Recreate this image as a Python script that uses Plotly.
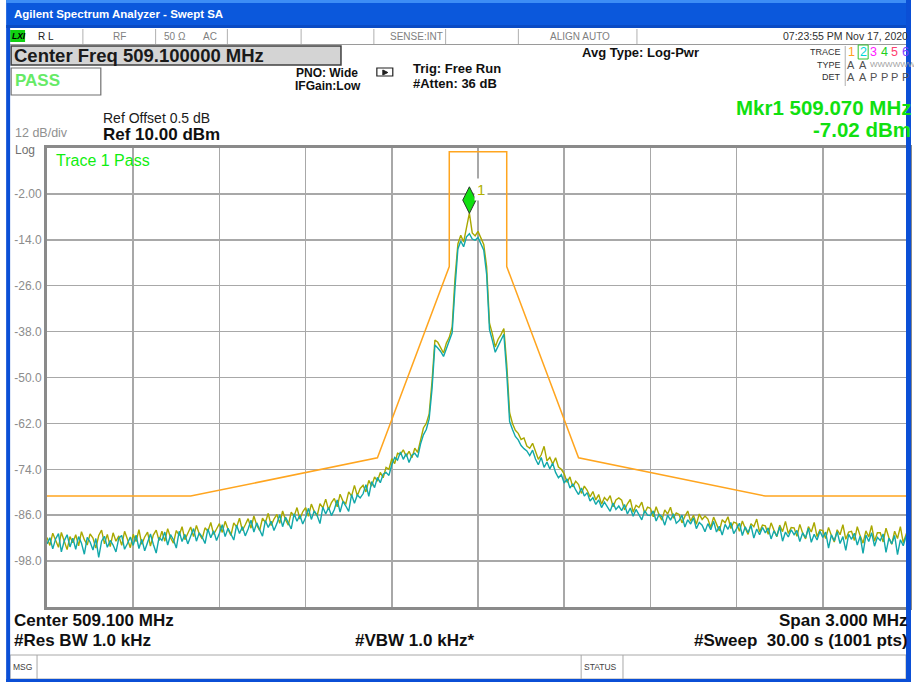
import numpy as np
import plotly.graph_objects as go

# ---------------- data ----------------
start_mhz, stop_mhz = 507.6, 510.6
n_pts = 301
freqs = np.round(np.linspace(start_mhz, stop_mhz, n_pts), 3)

trace1_db = [
    -91.8, -93.9, -90.7, -92.6, -94.4, -90.5, -92.9, -95.0, -91.6, -93.2,
    -91.1, -94.0, -90.3, -92.4, -93.8, -90.9, -92.0, -94.6, -91.3, -89.9,
    -93.5, -91.0, -94.2, -90.6, -92.8, -91.4, -93.9, -90.2, -92.3, -94.5,
    -91.0, -92.9, -89.8, -93.6, -91.7, -90.4, -94.1, -91.2, -89.9, -92.6,
    -90.2, -92.8, -89.5, -91.9, -93.3, -90.0, -91.3, -89.0, -92.4, -90.7,
    -89.1, -91.6, -88.7, -90.9, -92.2, -89.3, -90.2, -87.9, -91.0, -89.6,
    -88.2, -90.5, -87.6, -89.7, -91.3, -88.0, -89.1, -86.8, -90.0, -88.5,
    -86.9, -89.4, -86.2, -88.6, -90.0, -86.8, -87.9, -85.5, -88.7, -87.0,
    -85.8, -88.1, -84.9, -87.2, -88.6, -85.2, -86.3, -84.0, -87.0, -85.1,
    -84.0, -86.3, -83.1, -85.0, -86.2, -83.0, -84.1, -81.8, -84.6, -82.7,
    -81.6, -83.8, -80.5, -82.3, -83.0, -79.9, -81.0, -78.2, -80.9, -79.0,
    -78.2, -79.9, -76.9, -78.4, -76.0, -77.1, -74.8, -76.2, -73.5, -74.0,
    -71.2, -72.5, -69.8, -70.1, -68.9, -70.6, -69.3, -71.0, -68.5, -69.6,
    -66.0, -63.2, -62.0, -59.5, -51.0, -40.2, -40.8, -42.1, -43.6, -41.0,
    -39.5, -36.8, -24.0, -15.1, -12.8, -14.6, -11.0, -7.0, -12.2, -13.0,
    -11.8, -13.6, -15.2, -21.0, -35.8, -38.6, -42.0, -40.0, -38.8, -37.2,
    -46.5, -59.2, -62.0, -63.8, -64.6, -66.2, -65.8, -67.9, -68.5, -67.2,
    -69.6, -71.4, -70.2, -68.0, -71.8, -70.9, -72.6, -71.0, -73.4, -74.0,
    -75.2, -77.4, -76.0, -78.6, -77.1, -78.0, -80.3, -78.4, -79.5, -81.2,
    -79.8, -82.0, -80.6, -83.1, -81.4, -82.2, -80.9, -83.8, -82.0, -81.5,
    -82.1, -84.6, -83.0, -81.9, -85.2, -83.4, -84.0, -82.6, -85.5, -83.9,
    -84.2, -86.4, -83.8, -85.9, -87.3, -84.6, -85.7, -83.9, -86.8, -85.4,
    -85.8, -88.0, -86.3, -84.9, -87.6, -86.0, -88.4, -85.7, -87.1, -86.2,
    -87.0, -89.2, -86.5, -88.3, -90.1, -87.2, -88.0, -86.4, -89.5, -87.8,
    -88.1, -90.2, -87.5, -89.4, -91.0, -88.2, -89.0, -87.0, -90.4, -88.6,
    -88.8, -91.0, -88.0, -89.9, -91.6, -88.6, -90.3, -87.6, -90.8, -89.2,
    -89.3, -91.5, -88.4, -90.7, -92.2, -89.0, -90.4, -87.9, -91.6, -89.8,
    -90.0, -92.1, -89.2, -91.3, -93.0, -89.8, -91.1, -88.5, -92.3, -90.4,
    -90.2, -92.6, -89.0, -91.4, -93.3, -90.1, -91.7, -88.7, -92.8, -90.6,
    -90.6, -93.0, -89.4, -91.9, -93.6, -90.2, -92.1, -89.0, -93.2, -91.0,
    -91.8,
]

trace2_db = [
    -93.5, -91.9, -94.8, -92.2, -90.8, -95.6, -92.7, -91.1, -94.3, -92.0,
    -94.9, -91.6, -93.3, -96.2, -91.8, -93.0, -95.1, -92.1, -97.0, -92.8,
    -91.5, -94.4, -92.6, -93.8, -95.6, -92.0, -91.3, -94.9, -93.4, -91.7,
    -93.9, -91.2, -94.7, -92.3, -95.3, -92.8, -90.9, -93.6, -95.9, -91.8,
    -92.6, -90.4, -93.8, -91.1, -92.4, -94.6, -90.2, -92.9, -91.0, -93.5,
    -91.3, -89.5, -92.8, -90.6, -91.7, -93.4, -89.6, -91.9, -90.1, -92.6,
    -90.7, -88.5, -91.6, -89.4, -90.9, -92.5, -88.6, -90.8, -89.0, -91.4,
    -89.6, -87.3, -90.4, -88.0, -89.8, -91.5, -87.4, -89.2, -87.6, -90.0,
    -88.2, -85.9, -89.0, -86.5, -88.0, -89.6, -85.6, -87.6, -86.0, -88.3,
    -86.6, -84.2, -87.1, -84.9, -86.0, -88.2, -83.9, -85.7, -84.0, -86.1,
    -84.5, -82.0, -85.2, -82.4, -83.6, -85.0, -80.6, -82.9, -80.7, -81.5,
    -80.4, -78.0, -81.1, -77.2, -78.8, -76.1, -77.5, -75.3, -74.8, -75.6,
    -72.8, -70.9, -71.6, -69.5, -71.4, -69.9, -72.2, -70.3, -69.8, -70.9,
    -67.4, -65.0, -63.6, -60.8, -53.0, -41.5, -42.3, -43.2, -44.5, -42.4,
    -40.6, -38.3, -26.5, -16.4, -14.3, -15.8, -13.2, -12.4, -13.8, -14.1,
    -13.4, -14.9, -16.7, -23.0, -37.5, -40.3, -43.4, -41.8, -40.0, -38.7,
    -48.8, -61.5, -63.6, -65.4, -66.3, -67.8, -68.6, -69.2, -70.4, -69.0,
    -71.3, -72.8, -70.9, -73.5, -72.1, -73.9, -72.4, -74.8, -76.2, -75.4,
    -77.6, -76.5, -78.9, -77.8, -79.4, -80.6, -78.9, -81.0, -80.1, -82.3,
    -81.4, -83.2, -82.0, -84.0, -82.6, -83.9, -85.0, -82.8, -84.5, -83.6,
    -84.8, -83.2, -85.7, -84.1, -86.3, -84.5, -85.9, -87.2, -84.8, -86.0,
    -86.1, -84.9, -87.5, -85.8, -86.4, -88.6, -86.0, -87.3, -85.6, -88.1,
    -87.4, -86.0, -89.1, -87.2, -88.3, -86.7, -89.5, -87.9, -88.6, -90.3,
    -88.2, -89.8, -87.6, -90.4, -88.9, -91.2, -88.4, -89.7, -87.9, -90.8,
    -89.5, -88.1, -91.3, -89.0, -90.6, -88.7, -92.0, -89.6, -91.1, -89.2,
    -90.6, -89.3, -92.2, -90.1, -91.5, -89.0, -92.8, -90.4, -91.7, -89.8,
    -91.1, -90.0, -92.9, -90.6, -91.9, -89.4, -93.1, -91.0, -92.5, -90.2,
    -91.8, -90.4, -94.6, -91.1, -92.7, -90.3, -93.4, -91.6, -95.2, -91.0,
    -92.3, -90.7, -93.8, -91.5, -96.0, -91.2, -92.9, -90.6, -94.1, -91.8,
    -92.6, -90.9, -95.7, -92.0, -93.5, -91.3, -96.3, -92.4, -94.0, -91.5,
    -93.2,
]

limit_freq = [507.6, 508.1, 508.75, 509.0, 509.0, 509.2, 509.2, 509.45, 510.1, 510.6]
limit_db = [-81, -81, -71, -21, 9, 9, -21, -71, -81, -81]

mkr_freq = 509.070
mkr_db = -7.02

ref_level = 10.0
db_per_div = 12.0
n_div = 10
y_tick_vals = [-2, -14, -26, -38, -50, -62, -74, -86, -98]
y_tick_text = ["-2.00", "-14.0", "-26.0", "-38.0", "-50.0", "-62.0", "-74.0", "-86.0", "-98.0"]

# ---------------- geometry helpers ----------------
W, H = 914, 682
L, R, T, B = 47, 912, 148, 607
FONT = "Liberation Sans, Arial, sans-serif"


def px(x):
    return (x - L) / (R - L)


def py(y):
    return (B - y) / (B - T)


shapes = []
annotations = []


def rect(x0, y0, x1, y1, fill=None, line=None, lw=1):
    shapes.append(dict(type="rect", xref="paper", yref="paper",
                       x0=px(x0), x1=px(x1), y0=py(y1), y1=py(y0),
                       fillcolor=fill if fill else "rgba(0,0,0,0)",
                       line=dict(color=line if line else "rgba(0,0,0,0)", width=lw if line else 0),
                       layer="above"))


def vline(x, y0, y1, color="#a0a0a0", lw=1):
    shapes.append(dict(type="line", xref="paper", yref="paper",
                       x0=px(x), x1=px(x), y0=py(y0), y1=py(y1),
                       line=dict(color=color, width=lw), layer="above"))


def hline(x0, x1, y, color="#a0a0a0", lw=1):
    shapes.append(dict(type="line", xref="paper", yref="paper",
                       x0=px(x0), x1=px(x1), y0=py(y), y1=py(y),
                       line=dict(color=color, width=lw), layer="above"))


def text(x, y, s, size=12, color="#000000", anchor="left", bold=False, bg=None):
    annotations.append(dict(xref="paper", yref="paper", x=px(x), y=py(y),
                            text=("<b>%s</b>" % s) if bold else s,
                            showarrow=False, xanchor=anchor, yanchor="middle",
                            font=dict(family=FONT, size=size, color=color),
                            bgcolor=bg if bg else "rgba(0,0,0,0)", borderpad=0))


# ---------------- figure ----------------
fig = go.Figure()

fig.add_trace(go.Scatter(x=limit_freq, y=limit_db, mode="lines",
                         line=dict(color="#ffa51f", width=1.5), hoverinfo="skip"))
fig.add_trace(go.Scatter(x=freqs, y=trace1_db, mode="lines",
                         line=dict(color="#a9a800", width=1.4), hoverinfo="skip"))
fig.add_trace(go.Scatter(x=freqs, y=trace2_db, mode="lines",
                         line=dict(color="#12a8aa", width=1.4), hoverinfo="skip"))

# marker diamond (drawn just above the marked point)
fig.add_trace(go.Scatter(x=[mkr_freq], y=[mkr_db + 13 * (db_per_div * n_div) / (B - T)],
                         mode="markers",
                         marker=dict(symbol="diamond-tall", size=19, color="#10e010",
                                     line=dict(color="#2a3a2a", width=1)),
                         hoverinfo="skip"))
annotations.append(dict(x=mkr_freq, y=mkr_db, xref="x", yref="y", text="1",
                        showarrow=False, xshift=12, yshift=24,
                        font=dict(family=FONT, size=15, color="#b0b000"),
                        bgcolor="#ffffff", borderpad=2))

# ---------------- window chrome ----------------
# title bar
rect(6, 0, 914, 28, fill="#0b58dc")
rect(6, 0, 914, 3, fill="#3d8df5")
rect(6, 25, 914, 28, fill="#0a4bc4")
text(13, 14, "Agilent Spectrum Analyzer - Swept SA", 11.5, "#ffffff", bold=True)

# status row
rect(10, 29, 909, 44, fill="#ffffff")
hline(10, 909, 44.5, "#9a9a9a", 1)
for xd in [83, 156, 228, 302, 375, 447, 520, 639]:
    vline(xd, 29, 44, "#b0b0b0", 1)
rect(10, 30, 25, 42, fill="#10d010")
text(11, 36.5, "<i><b>LXI</b></i>", 8.5, "#000000")
text(37, 36.5, "R L", 10, "#202020")
text(112, 36.5, "RF", 10, "#808080")
text(163, 36.5, "50 Ω", 10, "#808080")
text(203, 36.5, "AC", 10, "#808080")
text(445, 36.5, "SENSE:INT", 10, "#808080", anchor="right")
text(582, 36.5, "ALIGN AUTO", 10, "#808080", anchor="center")
text(912, 36.5, "07:23:55 PM Nov 17, 2020", 10.5, "#303030", anchor="right")

# center freq / pass boxes
rect(11, 46, 342, 65, fill="#d4d4d4", line="#404040", lw=1.5)
text(13, 56, "Center Freq 509.100000 MHz", 18.5, "#1a1a1a", bold=True)
rect(11, 68, 101, 95, fill="#ffffff", line="#707070", lw=1.2)
text(14, 81, "PASS", 17, "#66ea66", bold=True)

text(328, 73, "PNO: Wide", 12, "#101010", anchor="center", bold=True)
text(329, 86, "IFGain:Low", 12, "#101010", anchor="center", bold=True)
shapes.append(dict(type="path", xref="paper", yref="paper",
                   path="M %f %f L %f %f L %f %f L %f %f Z" % (
                       px(378), py(68), px(394), py(68), px(394), py(76), px(378), py(76)),
                   line=dict(color="#202020", width=1.2), layer="above"))
shapes.append(dict(type="path", xref="paper", yref="paper",
                   path="M %f %f L %f %f L %f %f Z" % (
                       px(384), py(70), px(389), py(72.5), px(384), py(75)),
                   fillcolor="#202020", line=dict(color="#202020", width=1), layer="above"))
text(413, 68, "Trig: Free Run", 13, "#101010", bold=True)
text(413, 83, "#Atten: 36 dB", 13, "#101010", bold=True)
text(643, 52, "Avg Type: Log-Pwr", 13, "#101010", anchor="center", bold=True)

# trace table
rect(848, 46, 912, 86, fill="#ffffff")
vline(848, 46, 86, "#b0b0b0", 1)
text(845, 52, "TRACE", 9, "#303030", anchor="right")
text(845, 65, "TYPE", 9, "#303030", anchor="right")
text(845, 77, "DET", 9, "#303030", anchor="right")
rect(861, 45, 871, 59, line="#30c030", lw=1)
digit_x = [854, 866, 876, 887, 897, 908]
digit_c = ["#ffa020", "#00d8d8", "#ff20ff", "#20d020", "#ff4070", "#8040ff"]
for i, (dx, dc) in enumerate(zip(digit_x, digit_c)):
    text(dx, 52, str(i + 1), 12.5, dc, anchor="center")
text(854, 65, "A", 11, "#505050", anchor="center")
text(866, 65, "A", 11, "#505050", anchor="center")
text(872, 65, "WWWWWW", 8, "#a0a0a0")
for dx, s in zip(digit_x, ["A", "A", "P", "P", "P", "P"]):
    text(dx, 77, s, 11, "#505050", anchor="center")

# reference info
text(102, 118, "Ref Offset 0.5 dB", 14, "#1a1a1a")
text(102, 135, "Ref 10.00 dBm", 17, "#101010", bold=True)
text(14, 133, "12 dB/div", 12.5, "#909090")
text(14, 149.5, "Log", 12, "#707070")
text(55, 160, "Trace 1 Pass", 16, "#10ee10")

# marker readout
text(915, 108, "Mkr1 509.070 MHz", 20.5, "#10e010", anchor="right", bold=True)
text(915, 129, "-7.02 dBm", 20.5, "#10e010", anchor="right", bold=True)

# bottom annotations
text(13, 620, "Center 509.100 MHz", 17, "#101010", bold=True)
text(13, 640, "#Res BW 1.0 kHz", 17, "#101010", bold=True)
text(355, 640, "#VBW 1.0 kHz*", 17, "#101010", bold=True)
text(912, 620, "Span 3.000 MHz", 17, "#101010", anchor="right", bold=True)
text(912, 640, "#Sweep\u00a0\u00a030.00 s (1001 pts)", 17, "#101010", anchor="right", bold=True)

# message row
rect(10, 655, 909, 679, fill="#ffffff", line="#a8a8a8", lw=1)
vline(37, 655, 679, "#a8a8a8", 1)
vline(583, 655, 679, "#a8a8a8", 1)
vline(625, 655, 679, "#a8a8a8", 1)
text(12, 667, "MSG", 8.5, "#404040")
text(585, 667, "STATUS", 8.5, "#404040")

# blue window borders
rect(6, 28, 10, 682, fill="#0b4fd6")
rect(909, 0, 914, 682, fill="#0b4fd6")
rect(6, 679, 914, 682, fill="#0b4fd6")

fig.update_layout(
    width=W, height=H,
    margin=dict(l=L, r=W - R, t=T, b=H - B, pad=0),
    paper_bgcolor="#ffffff", plot_bgcolor="#ffffff",
    showlegend=False,
    shapes=shapes, annotations=annotations,
    font=dict(family=FONT),
)
fig.update_xaxes(range=[start_mhz, stop_mhz], tick0=start_mhz, dtick=(stop_mhz - start_mhz) / n_div,
                 showticklabels=False, ticks="", showgrid=True, gridcolor="#a8a8a8", gridwidth=1.5,
                 zeroline=False, showline=True, mirror=True, linecolor="#8a8a8a", linewidth=3)
fig.update_yaxes(range=[ref_level - db_per_div * n_div, ref_level],
                 tickmode="array", tickvals=y_tick_vals, ticktext=y_tick_text,
                 tickfont=dict(family=FONT, size=12, color="#8c8c8c"), ticks="",
                 showgrid=True, gridcolor="#a8a8a8", gridwidth=1.5,
                 zeroline=False, showline=True, mirror=True, linecolor="#8a8a8a", linewidth=3)

fig.write_html("out.html", include_plotlyjs=True,
               config={"displayModeBar": False, "staticPlot": True},
               post_script="document.body.style.margin='0';document.body.style.overflow='hidden';")
